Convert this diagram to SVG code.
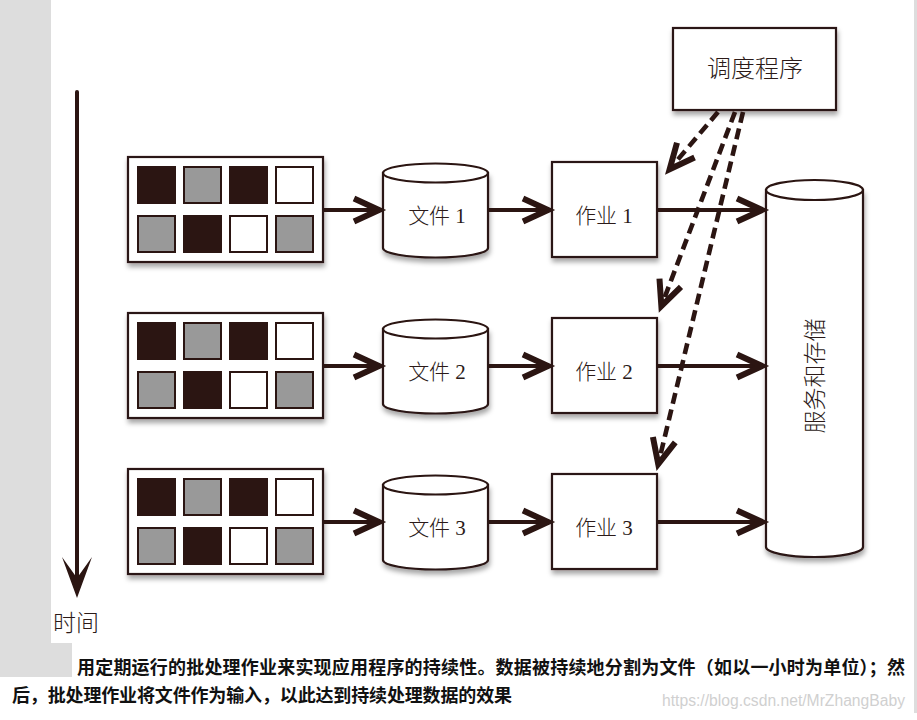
<svg xmlns="http://www.w3.org/2000/svg" width="917" height="720" viewBox="0 0 917 720">
<style>
.node{fill:#fff;stroke:#2b1512;stroke-width:2.2}
.dk{fill:#2b1512;stroke:#2b1512;stroke-width:2}
.gr{fill:#999;stroke:#2b1512;stroke-width:2}
.wh{fill:#fff;stroke:#2b1512;stroke-width:2}
.lbl{font-family:"Liberation Serif","Noto Sans CJK SC",serif;font-weight:300;fill:#2b1a18;text-anchor:middle;dominant-baseline:central}
.solid{stroke:#2b1512;stroke-width:4;fill:none}
.dash{stroke:#2b1512;stroke-width:4.6;fill:none;stroke-dasharray:11 6}
.cap{font-family:"Noto Sans CJK SC","Noto Sans CJK TC",sans-serif;font-weight:bold;font-size:18px;fill:#111}
</style>
<defs>
<filter id="sh" x="-20%" y="-20%" width="140%" height="150%">
<feDropShadow dx="1" dy="4" stdDeviation="2.5" flood-color="#000" flood-opacity="0.35"/>
</filter>
<marker id="ah" markerUnits="userSpaceOnUse" markerWidth="34" markerHeight="34" viewBox="-30 -17 34 34" refX="0" refY="0" orient="auto" overflow="visible">
<path d="M-26,-11.5 L-1,0 L-26,11.5" fill="none" stroke="#2b1512" stroke-width="6" stroke-dasharray="none" stroke-linejoin="miter"/>
</marker>
</defs>
<rect x="0" y="0" width="917" height="720" fill="#fff"/>
<rect x="0" y="0" width="51" height="643" fill="#dddddd"/>
<rect x="0" y="643" width="72" height="34" fill="#dddddd"/>
<rect x="914" y="0" width="3" height="713" fill="#dddddd"/>

<g id="time">
<line x1="77" y1="92" x2="77" y2="585" stroke="#2b1512" stroke-width="4" stroke-linecap="round"/>
<polygon points="77,598 62,557 77,578 92,557" fill="#2b1512"/>
<text x="53" y="631" font-family="Noto Sans CJK SC,sans-serif" font-weight="300" font-size="23" fill="#2b1a18">时间</text>
</g>

<g id="data1" transform="translate(128,157)">
<rect class="node" x="0" y="0" width="195" height="105" filter="url(#sh)"/>
<rect class="dk" x="10" y="10" width="37" height="36"/><rect class="gr" x="56" y="10" width="37" height="36"/><rect class="dk" x="102" y="10" width="37" height="36"/><rect class="wh" x="148" y="10" width="37" height="36"/>
<rect class="gr" x="10" y="59" width="37" height="36"/><rect class="dk" x="56" y="59" width="37" height="36"/><rect class="wh" x="102" y="59" width="37" height="36"/><rect class="gr" x="148" y="59" width="37" height="36"/>
</g>
<g id="data2" transform="translate(128,313)">
<rect class="node" x="0" y="0" width="195" height="105" filter="url(#sh)"/>
<rect class="dk" x="10" y="10" width="37" height="36"/><rect class="gr" x="56" y="10" width="37" height="36"/><rect class="dk" x="102" y="10" width="37" height="36"/><rect class="wh" x="148" y="10" width="37" height="36"/>
<rect class="gr" x="10" y="59" width="37" height="36"/><rect class="dk" x="56" y="59" width="37" height="36"/><rect class="wh" x="102" y="59" width="37" height="36"/><rect class="gr" x="148" y="59" width="37" height="36"/>
</g>
<g id="data3" transform="translate(128,469)">
<rect class="node" x="0" y="0" width="195" height="105" filter="url(#sh)"/>
<rect class="dk" x="10" y="10" width="37" height="36"/><rect class="gr" x="56" y="10" width="37" height="36"/><rect class="dk" x="102" y="10" width="37" height="36"/><rect class="wh" x="148" y="10" width="37" height="36"/>
<rect class="gr" x="10" y="59" width="37" height="36"/><rect class="dk" x="56" y="59" width="37" height="36"/><rect class="wh" x="102" y="59" width="37" height="36"/><rect class="gr" x="148" y="59" width="37" height="36"/>
</g>

<g id="file1">
<path class="node" filter="url(#sh)" d="M383,173 L383,248 A52.5,9.5 0 0 0 488,248 L488,173 Z"/>
<ellipse class="node" cx="435.5" cy="173" rx="52.5" ry="9.5"/>
<text class="lbl" x="437" y="216" font-size="21">文件 1</text>
</g>
<g id="file2">
<path class="node" filter="url(#sh)" d="M383,329 L383,404 A52.5,9.5 0 0 0 488,404 L488,329 Z"/>
<ellipse class="node" cx="435.5" cy="329" rx="52.5" ry="9.5"/>
<text class="lbl" x="437" y="372" font-size="21">文件 2</text>
</g>
<g id="file3">
<path class="node" filter="url(#sh)" d="M383,485 L383,560 A52.5,9.5 0 0 0 488,560 L488,485 Z"/>
<ellipse class="node" cx="435.5" cy="485" rx="52.5" ry="9.5"/>
<text class="lbl" x="437" y="528" font-size="21">文件 3</text>
</g>

<g id="job1">
<rect class="node" filter="url(#sh)" x="552" y="162" width="105" height="95"/>
<text class="lbl" x="604" y="216" font-size="21">作业 1</text>
</g>
<g id="job2">
<rect class="node" filter="url(#sh)" x="552" y="318" width="105" height="95"/>
<text class="lbl" x="604" y="372" font-size="21">作业 2</text>
</g>
<g id="job3">
<rect class="node" filter="url(#sh)" x="552" y="474" width="105" height="95"/>
<text class="lbl" x="604" y="528" font-size="21">作业 3</text>
</g>

<g id="scheduler">
<rect class="node" filter="url(#sh)" x="673" y="28" width="163" height="82"/>
<text class="lbl" x="755" y="69" font-size="24">调度程序</text>
</g>

<g id="storage">
<path class="node" filter="url(#sh)" d="M766,190 L766,547 A48.5,10 0 0 0 863,547 L863,190 Z"/>
<ellipse class="node" cx="814.5" cy="190" rx="48.5" ry="10"/>
<text class="lbl" x="815" y="376" font-size="23" transform="rotate(-90 815 376)">服务和存储</text>
</g>

<g id="connectors">
<line class="solid" x1="323" y1="210" x2="380" y2="210" marker-end="url(#ah)"/>
<line class="solid" x1="488" y1="210" x2="549" y2="210" marker-end="url(#ah)"/>
<line class="solid" x1="657" y1="210" x2="763" y2="210" marker-end="url(#ah)"/>
<line class="solid" x1="323" y1="366" x2="380" y2="366" marker-end="url(#ah)"/>
<line class="solid" x1="488" y1="366" x2="549" y2="366" marker-end="url(#ah)"/>
<line class="solid" x1="657" y1="366" x2="763" y2="366" marker-end="url(#ah)"/>
<line class="solid" x1="323" y1="522" x2="380" y2="522" marker-end="url(#ah)"/>
<line class="solid" x1="488" y1="522" x2="549" y2="522" marker-end="url(#ah)"/>
<line class="solid" x1="657" y1="522" x2="763" y2="522" marker-end="url(#ah)"/>
<line class="dash" x1="718" y1="112" x2="669" y2="170" marker-end="url(#ah)"/>
<line class="dash" x1="735" y1="112" x2="661" y2="307" marker-end="url(#ah)"/>
<line class="dash" x1="743" y1="112" x2="658" y2="465" marker-end="url(#ah)"/>
</g>

<text class="cap" x="77" y="674" textLength="828" lengthAdjust="spacing">用定期运行的批处理作业来实现应用程序的持续性。数据被持续地分割为文件（如以一小时为单位）；然</text>
<text class="cap" x="12" y="702" textLength="500" lengthAdjust="spacing">后，批处理作业将文件作为输入，以此达到持续处理数据的效果</text>
<text x="662" y="706" font-family="Liberation Sans,sans-serif" font-size="16" fill="#d0d0d0" textLength="243" lengthAdjust="spacingAndGlyphs">https://blog.csdn.net/MrZhangBaby</text>
</svg>
